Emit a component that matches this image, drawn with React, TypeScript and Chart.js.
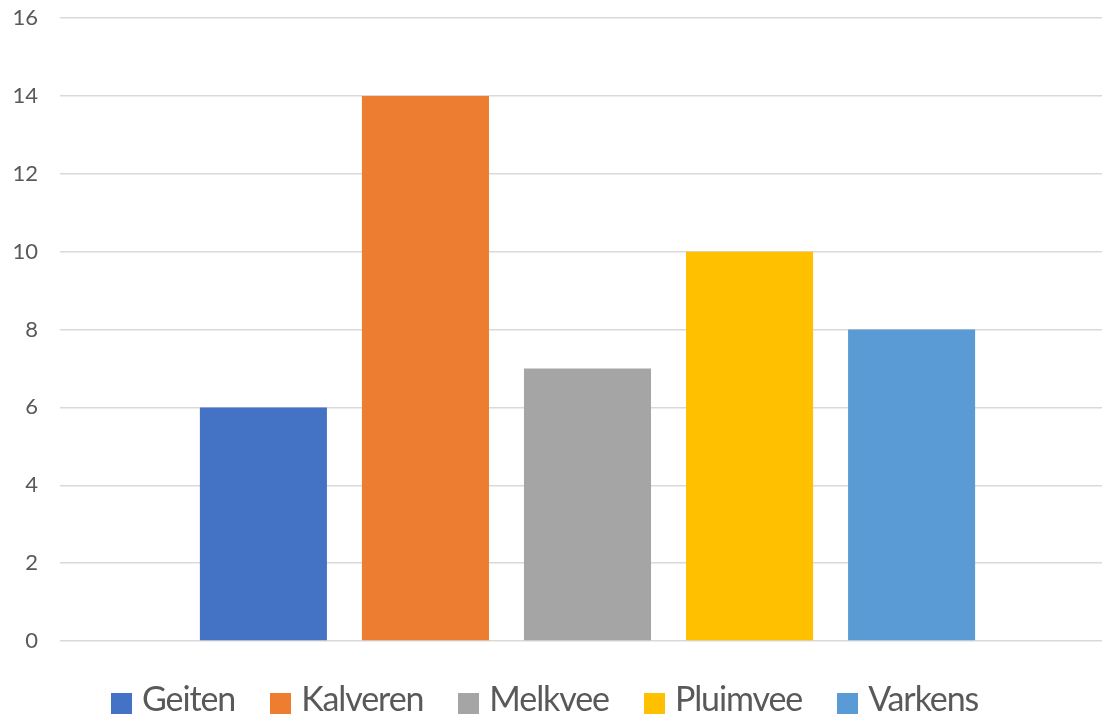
import React, { useEffect, useRef } from "react";
import { Chart, registerables } from "chart.js";

Chart.register(...registerables);

const categories = [""];
const seriesNames = ["Geiten", "Kalveren", "Melkvee", "Pluimvee", "Varkens"];
const seriesValues = [6, 14, 7, 10, 8];
const seriesColors = ["#4472C4", "#ED7D31", "#A5A5A5", "#FFC000", "#5B9BD5"];
const yMin = 0;
const yMax = 16;
const yStep = 2;

const FONT = "Lato, 'Open Sans', sans-serif";

export default function App() {
  const canvasRef = useRef<HTMLCanvasElement | null>(null);

  useEffect(() => {
    document.body.style.margin = "0";
    document.body.style.overflow = "hidden";
    const canvas = canvasRef.current;
    if (!canvas) return;
    const chart = new Chart(canvas, {
      type: "bar",
      data: {
        labels: categories,
        datasets: seriesNames.map((name, i) => ({
          label: name,
          data: [seriesValues[i]],
          backgroundColor: seriesColors[i],
          borderWidth: 0,
          categoryPercentage: 0.768,
          barPercentage: 0.784,
        })),
      },
      options: {
        animation: false,
        responsive: false,
        devicePixelRatio: 1,
        layout: { padding: { top: 18, bottom: 75, left: 0, right: 0 } },
        plugins: {
          legend: { display: false },
          tooltip: { enabled: false },
        },
        scales: {
          x: { display: false },
          y: {
            min: yMin,
            max: yMax,
            ticks: {
              stepSize: yStep,
              padding: 0,
              color: "#595959",
              font: { family: FONT, size: 22 },
            },
            grid: {
              color: "#d9d9d9",
              lineWidth: 1.5,
              drawTicks: true,
              tickLength: 22,
              tickColor: "rgba(0,0,0,0)",
            },
            border: { display: false },
            afterFit: (scale: any) => {
              scale.width = 60;
            },
          },
        },
      },
    });
    return () => chart.destroy();
  }, []);

  return (
    <div style={{ position: "relative", width: 1102, height: 716, overflow: "hidden", background: "#fff" }}>
      <canvas ref={canvasRef} width={1115} height={716} style={{ position: "absolute", left: 0, top: 0, width: 1115, height: 716 }} />
      <div
        style={{
          position: "absolute",
          left: 111,
          top: 680,
          display: "flex",
          alignItems: "center",
          gap: 35,
          fontFamily: FONT,
          fontSize: 34,
          letterSpacing: -1.1,
          lineHeight: "36px",
          color: "#595959",
          whiteSpace: "nowrap",
        }}
      >
        {seriesNames.map((name, i) => (
          <div key={name} style={{ display: "flex", alignItems: "center" }}>
            <span style={{ display: "inline-block", width: 21, height: 21, background: seriesColors[i], marginRight: 10, marginTop: 10 }} />
            <span>{name}</span>
          </div>
        ))}
      </div>
    </div>
  );
}
